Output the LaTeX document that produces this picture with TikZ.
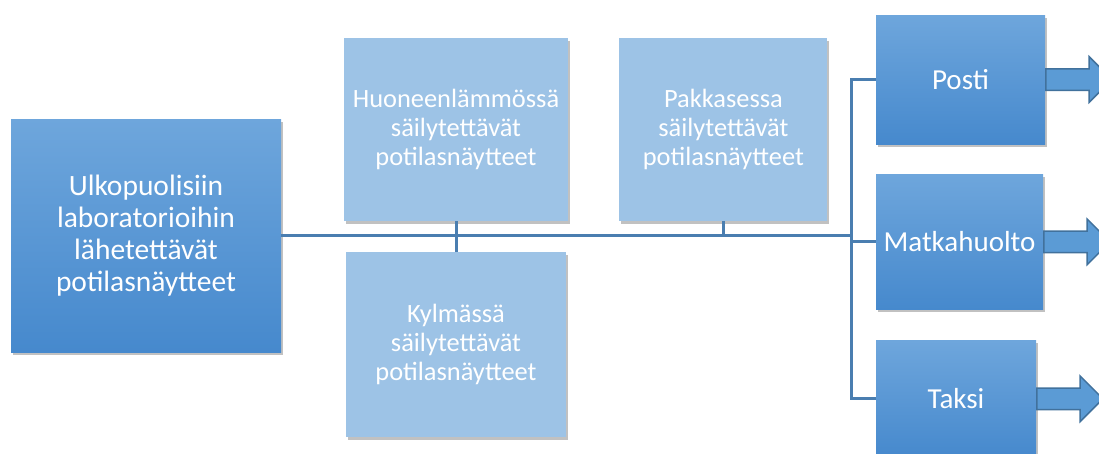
\documentclass[tikz,border=0pt]{standalone}
\usepackage{fontspec}
\setmainfont{Carlito}
\usetikzlibrary{positioning,shapes.arrows,shadows}

\definecolor{boxtop}{HTML}{6EA6DC}
\definecolor{boxbot}{HTML}{4689CD}
\definecolor{paleblue}{HTML}{9DC3E6}
\definecolor{linkblue}{HTML}{4A7EB0}
\definecolor{arrowfill}{HTML}{5B9BD5}
\definecolor{arrowdraw}{HTML}{41719C}

\begin{document}
\begin{tikzpicture}[
    x=1pt, y=1pt,
    boxshadow/.style={drop shadow={shadow xshift=1.5pt, shadow yshift=-2.5pt,
                      opacity=0.35, fill=black!70}},
    darkbox/.style={rectangle, top color=boxtop, bottom color=boxbot, inner sep=0pt,
                    align=center, text=white, boxshadow},
    palebox/.style={rectangle, fill=paleblue, inner sep=0pt, align=center,
                    text=white, boxshadow, font=\fontsize{26.4}{29}\selectfont},
    link/.style={draw=linkblue, line width=3pt},
    fat/.style={single arrow, fill=arrowfill, draw=arrowdraw, line width=1.5pt,
                inner xsep=0pt, inner ysep=10pt, minimum width=44pt,
                single arrow head extend=12pt, minimum height=66pt}
]
\useasboundingbox (0,0) rectangle (1099,-453);
\clip (0,0) rectangle (1099,-453);

% Source
\node[darkbox, minimum width=270pt, minimum height=233pt,
      font=\fontsize{29.5}{32}\selectfont] (source) at (146,-235.5)
      {Ulkopuolisiin\\laboratorioihin\\lähetettävät\\potilasnäytteet};

% Storage
\node[palebox, minimum width=224pt, minimum height=183pt] (room) at (456,-129.5)
      {Huoneenlämmössä\\säilytettävät\\potilasnäytteet};
\node[palebox, below=31pt of room, minimum width=220pt, minimum height=185pt] (cold)
      {Kylmässä\\säilytettävät\\potilasnäytteet};
\node[palebox, right=51pt of room, minimum width=208pt, minimum height=183pt] (frozen)
      {Pakkasessa\\säilytettävät\\potilasnäytteet};

% Transport
\node[darkbox, minimum width=169pt, minimum height=129pt,
      font=\fontsize{29}{35}\selectfont] (posti) at (960.5,-79.5) {Posti};
\node[darkbox, below=30pt of posti.south west, anchor=north west,
      minimum width=167pt, minimum height=135pt,
      font=\fontsize{29}{35}\selectfont] (matka) {Matkahuolto};
\node[darkbox, below=31pt of matka.south west, anchor=north west,
      minimum width=160pt, minimum height=116pt,
      font=\fontsize{29}{35}\selectfont] (taksi) {Taksi};

\coordinate (bus) at ([xshift=-24pt]posti.west);

% Lines
\draw[link] (source.east) -- (source.east -| bus);
\draw[link] (room.south) -- (cold.north);
\draw[link] (frozen.south) -- (frozen.south |- source.east);
\draw[link] (posti.west) -- (bus) |- (taksi.west);
\draw[link] (matka.west) -- (matka.west -| bus);

% Outgoing arrows
\node[fat, right=0pt of posti, anchor=tail] (postiout) {};
\node[fat, right=0pt of matka, anchor=tail] (matkaout) {};
\node[fat, right=0pt of taksi, anchor=tail] (taksiout) {};

\end{tikzpicture}
\end{document}
